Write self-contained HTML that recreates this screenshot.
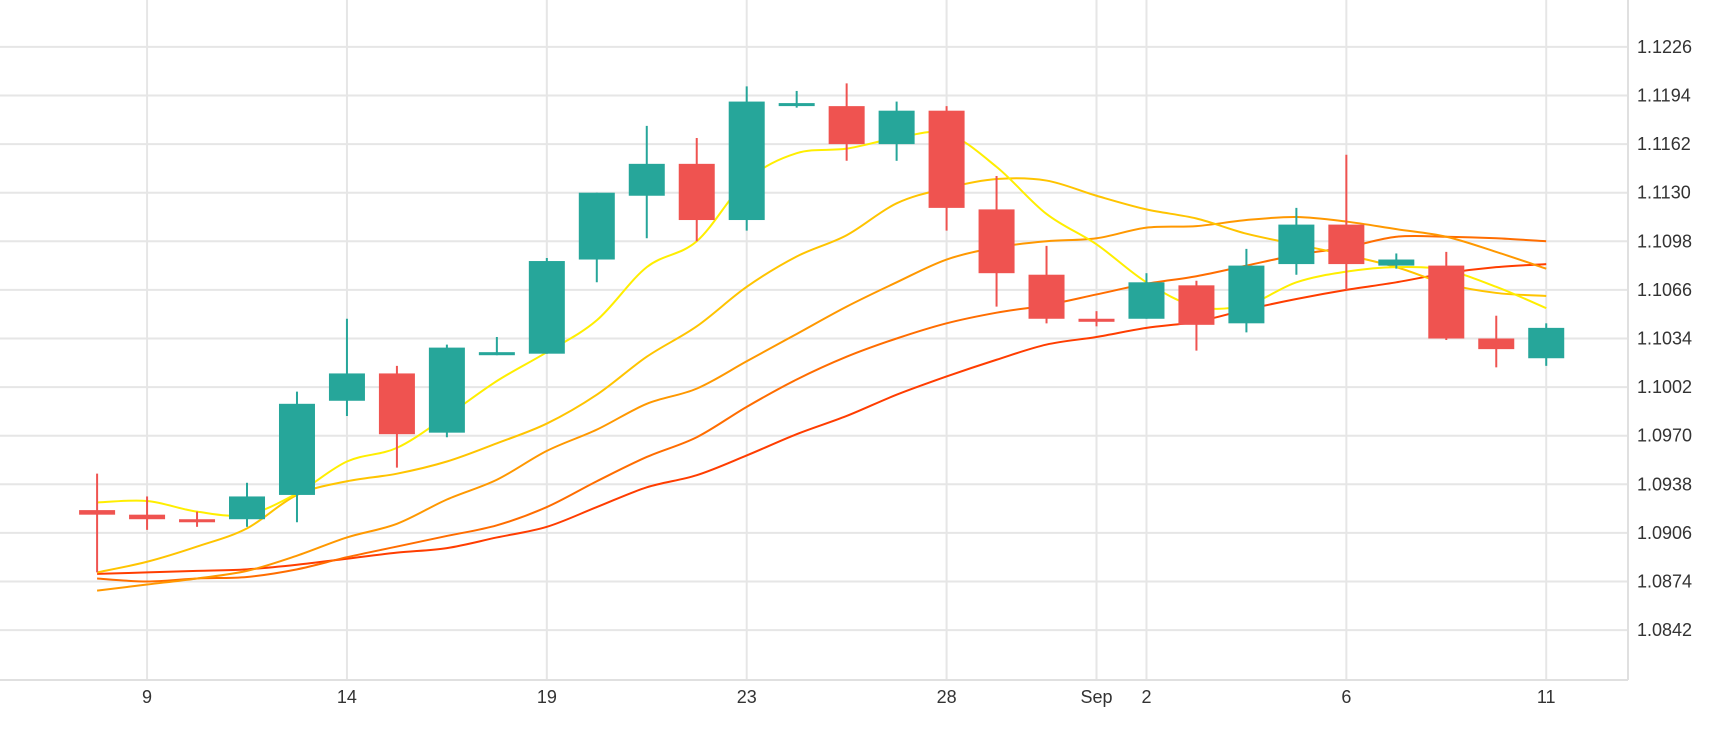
<!DOCTYPE html>
<html><head><meta charset="utf-8"><style>
html,body{margin:0;padding:0;background:#fff;}
svg{display:block;font-family:"Liberation Sans",sans-serif;}
</style></head><body>
<svg id="chart" width="1730" height="730" viewBox="0 0 1730 730" xmlns="http://www.w3.org/2000/svg">
<g id="grid"></g>
<g id="lines"></g>
<g id="candles"></g>
<g id="axes"></g>
</svg>
<script>
const yTicks = [1.1226,1.1194,1.1162,1.1130,1.1098,1.1066,1.1034,1.1002,1.0970,1.0938,1.0906,1.0874,1.0842];
const xTickIdx = [1,5,9,13,17,20,21,25,29];
const xTickLabels = ["9","14","19","23","28","Sep","2","6","11"];
const opens = [1.0921,1.0918,1.0915,1.0915,1.0931,1.0993,1.1011,1.0972,1.1023,1.1024,1.1086,1.1128,1.1149,1.1112,1.1188,1.1187,1.1162,1.1184,1.1119,1.1076,1.1047,1.1047,1.1069,1.1044,1.1083,1.1109,1.1082,1.1082,1.1034,1.1021];
const highs = [1.0945,1.0930,1.0920,1.0939,1.0999,1.1047,1.1016,1.1030,1.1035,1.1087,1.1130,1.1174,1.1166,1.1200,1.1197,1.1202,1.1190,1.1187,1.1141,1.1095,1.1052,1.1077,1.1072,1.1093,1.1120,1.1155,1.1090,1.1091,1.1049,1.1044];
const lows = [1.0880,1.0908,1.0910,1.0910,1.0913,1.0983,1.0949,1.0969,1.1023,1.1024,1.1071,1.1100,1.1098,1.1105,1.1186,1.1151,1.1151,1.1105,1.1055,1.1044,1.1042,1.1047,1.1026,1.1038,1.1076,1.1066,1.1080,1.1033,1.1015,1.1016];
const closes = [1.0918,1.0915,1.0913,1.0930,1.0991,1.1011,1.0971,1.1028,1.1025,1.1085,1.1130,1.1149,1.1112,1.1190,1.1189,1.1162,1.1184,1.1120,1.1077,1.1047,1.1045,1.1071,1.1043,1.1082,1.1109,1.1083,1.1086,1.1034,1.1027,1.1041];
const maA = [1.0926,1.0927,1.0920,1.0918,1.0932,1.0953,1.0962,1.0983,1.1006,1.1025,1.1046,1.1081,1.1098,1.1138,1.1156,1.1159,1.1166,1.1169,1.1147,1.1116,1.1096,1.1071,1.1055,1.1056,1.1071,1.1078,1.1081,1.1079,1.1068,1.1054];
const maB = [1.0880,1.0887,1.0897,1.0909,1.0931,1.0940,1.0945,1.0953,1.0965,1.0978,1.0997,1.1022,1.1042,1.1068,1.1088,1.1102,1.1123,1.1133,1.1139,1.1138,1.1128,1.1119,1.1113,1.1103,1.1096,1.1089,1.1081,1.1070,1.1064,1.1062];
const maC = [1.0868,1.0872,1.0876,1.0881,1.0891,1.0903,1.0912,1.0928,1.0941,1.0960,1.0974,1.0991,1.1001,1.1019,1.1037,1.1055,1.1071,1.1086,1.1094,1.1098,1.1100,1.1107,1.1108,1.1112,1.1114,1.1111,1.1106,1.1101,1.1091,1.1080];
const maD = [1.0876,1.0874,1.0876,1.0877,1.0882,1.0890,1.0897,1.0904,1.0911,1.0923,1.0940,1.0956,1.0969,1.0989,1.1007,1.1022,1.1034,1.1044,1.1051,1.1056,1.1063,1.1070,1.1075,1.1082,1.1089,1.1094,1.1101,1.1101,1.1100,1.1098];
const maE = [1.0879,1.0880,1.0881,1.0882,1.0885,1.0889,1.0893,1.0896,1.0903,1.0910,1.0923,1.0936,1.0944,1.0957,1.0971,1.0983,1.0997,1.1009,1.1020,1.1030,1.1035,1.1041,1.1045,1.1053,1.1060,1.1066,1.1071,1.1077,1.1081,1.1083];

const NS="http://www.w3.org/2000/svg";
const RIGHT=1628, BOTTOM=680;
function xS(i){return 97.1+49.97*i;}
function yS(p){return 46.9+(1.1226-p)/0.0032*48.6;}
function mk(tag,attrs,parent){const e=document.createElementNS(NS,tag);for(const k in attrs)e.setAttribute(k,attrs[k]);parent.appendChild(e);return e;}
const grid=document.getElementById('grid'), axes=document.getElementById('axes'), lines=document.getElementById('lines'), cg=document.getElementById('candles');

yTicks.forEach((t)=>{
  const y=yS(t);
  const l=mk('line',{x1:0,x2:RIGHT,y1:y,y2:y,stroke:'#e6e6e6','stroke-width':2},grid);
  
  
  const tx=mk('text',{x:1637,y:y+6,'font-size':18,fill:'#333'},axes);
  tx.textContent=t.toFixed(4);
  
  
});
xTickIdx.forEach((idx,k)=>{
  const x=xS(idx);
  const l=mk('line',{x1:x,x2:x,y1:0,y2:BOTTOM,stroke:'#e6e6e6','stroke-width':2},grid);
  
  
  const tx=mk('text',{x:x,y:703,'font-size':18,fill:'#333','text-anchor':'middle'},axes);
  tx.textContent=xTickLabels[k];
  
  
});
const bx=mk('line',{x1:0,x2:RIGHT,y1:BOTTOM,y2:BOTTOM,stroke:'#e0e0e0','stroke-width':2},axes);


const by=mk('line',{x1:RIGHT,x2:RIGHT,y1:0,y2:BOTTOM,stroke:'#e0e0e0','stroke-width':2},axes);



function smoothPath(vals){
  const pts=vals.map((v,i)=>[xS(i),yS(v)]);
  let d='M'+pts[0][0]+','+pts[0][1];
  for(let i=0;i<pts.length-1;i++){
    const p0=pts[Math.max(0,i-1)],p1=pts[i],p2=pts[i+1],p3=pts[Math.min(pts.length-1,i+2)];
    const c1=[p1[0]+(p2[0]-p0[0])/6,p1[1]+(p2[1]-p0[1])/6];
    const c2=[p2[0]-(p3[0]-p1[0])/6,p2[1]-(p3[1]-p1[1])/6];
    d+=' C'+c1[0]+','+c1[1]+' '+c2[0]+','+c2[1]+' '+p2[0]+','+p2[1];
  }
  return d;
}
[[maE,'#ff3d00','ma-line-slowest'],[maD,'#ff6d00','ma-line-slow'],[maC,'#ff9800','ma-line-medium'],[maB,'#ffc400','ma-line-fast'],[maA,'#ffee00','ma-line-fastest']].forEach(s=>{
  const p=mk('path',{d:smoothPath(s[0]),fill:'none',stroke:s[1],'stroke-width':2},lines);
  
  
});

opens.forEach((o,i)=>{
  const c=closes[i], up=c>=o, col=up?'#26a69a':'#ef5350', x=xS(i);
  const w=mk('line',{x1:x,x2:x,y1:yS(highs[i]),y2:yS(lows[i]),stroke:col,'stroke-width':2},cg);
  
  
  const top=yS(Math.max(o,c)), bot=yS(Math.min(o,c));
  const r=mk('rect',{x:x-18,y:top,width:36,height:Math.max(bot-top,3),fill:col},cg);
  
  
});
</script>
</body></html>
